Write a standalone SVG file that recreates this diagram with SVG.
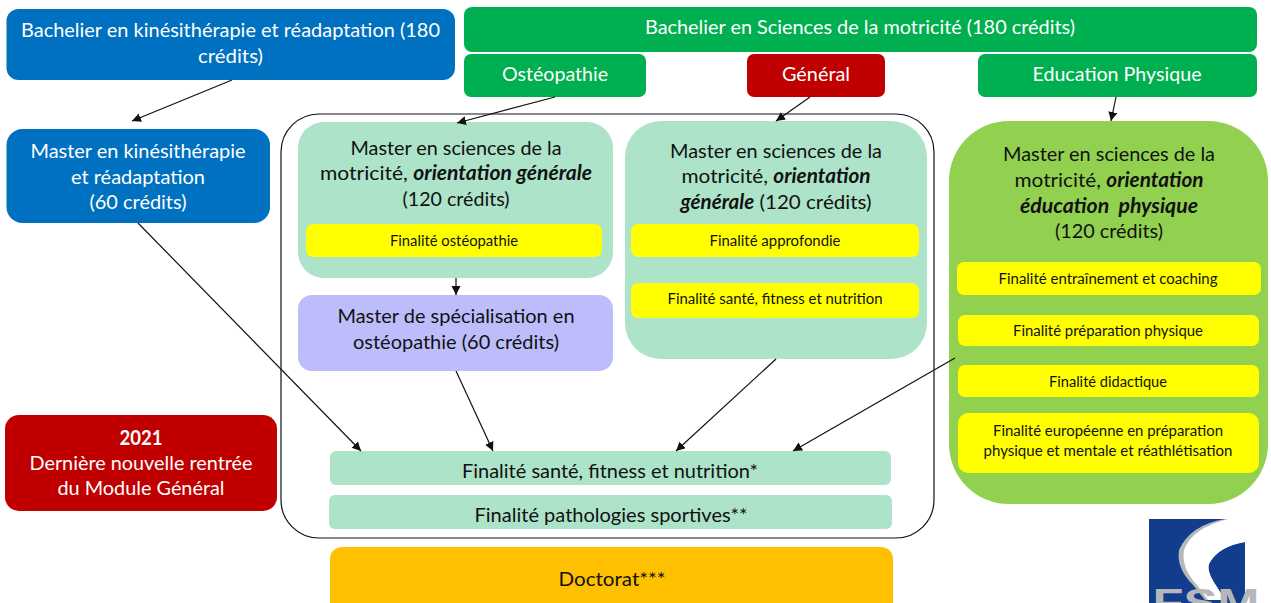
<svg xmlns="http://www.w3.org/2000/svg" width="1271" height="603" viewBox="0 0 1271 603">
<style>
text{font-family:"Lato","Open Sans","Liberation Sans",sans-serif;text-anchor:middle}
.l{font-size:20px;fill:#111}
.w{font-size:20px;fill:#fff}
.s{font-size:14.5px;fill:#111}
.b{font-weight:700;font-style:italic}
.c{stroke:#111;stroke-width:1.2;fill:none;marker-end:url(#a)}
</style>
<defs><marker id="a" markerUnits="userSpaceOnUse" markerWidth="10" markerHeight="10" refX="9" refY="4.5" orient="auto"><path d="M0 0L9 4.500L0 9z" fill="#111"/></marker></defs>
<rect width="1271" height="603" fill="#fff"/>
<g id="frame"><rect x="281" y="114" width="653" height="424" rx="38" fill="none" stroke="#111" stroke-width="1.2"/></g>
<g id="bach-kine"><rect x="6.5" y="9" width="448.500" height="71" rx="12" fill="#0070C0"/>
<text class="w" x="230.500" y="37" textLength="419" lengthAdjust="spacingAndGlyphs">Bachelier en kinésithérapie et réadaptation (180</text>
<text class="w" x="230.500" y="63" textLength="65" lengthAdjust="spacingAndGlyphs">crédits)</text></g>
<g id="bach-motricite"><rect x="464" y="7" width="793" height="45" rx="8" fill="#00B050"/>
<text class="w" x="860" y="34" textLength="430" lengthAdjust="spacingAndGlyphs">Bachelier en Sciences de la motricité (180 crédits)</text></g>
<g id="osteo"><rect x="464" y="54" width="182" height="43" rx="7" fill="#00B050"/>
<text class="w" x="555" y="81" textLength="106" lengthAdjust="spacingAndGlyphs">Ostéopathie</text></g>
<g id="general"><rect x="747" y="54" width="138" height="43" rx="7" fill="#C00000"/>
<text class="w" x="816" y="81" textLength="68" lengthAdjust="spacingAndGlyphs">Général</text></g>
<g id="edu"><rect x="978" y="54" width="279" height="43" rx="7" fill="#00B050"/>
<text class="w" x="1117" y="81" textLength="169" lengthAdjust="spacingAndGlyphs">Education Physique</text></g>
<g id="master-kine"><rect x="6.5" y="129" width="263.500" height="94" rx="16" fill="#0070C0"/>
<text class="w" x="138" y="158" textLength="215" lengthAdjust="spacingAndGlyphs">Master en kinésithérapie</text>
<text class="w" x="138" y="184" textLength="134" lengthAdjust="spacingAndGlyphs">et réadaptation</text>
<text class="w" x="138" y="209" textLength="97" lengthAdjust="spacingAndGlyphs">(60 crédits)</text></g>
<g id="master-a"><rect x="298" y="122" width="315" height="156" rx="26" fill="#ACE3C9"/>
<text class="l" x="456" y="155" textLength="211" lengthAdjust="spacingAndGlyphs">Master en sciences de la</text>
<text class="l" x="456" y="180" textLength="272" lengthAdjust="spacingAndGlyphs">motricité, <tspan class="b">orientation générale</tspan></text>
<text class="l" x="456" y="206" textLength="107" lengthAdjust="spacingAndGlyphs">(120 crédits)</text>
<rect x="306" y="224" width="296" height="33" rx="7" fill="#FFFF00"/>
<text class="s" x="454" y="246" textLength="128" lengthAdjust="spacingAndGlyphs">Finalité ostéopathie</text></g>
<g id="master-spec"><rect x="298" y="295" width="315" height="76" rx="14" fill="#BDBDFB"/>
<text class="l" x="456" y="323" textLength="237" lengthAdjust="spacingAndGlyphs">Master de spécialisation en</text>
<text class="l" x="456" y="349" textLength="206" lengthAdjust="spacingAndGlyphs">ostéopathie (60 crédits)</text></g>
<g id="master-b"><rect x="625" y="121" width="302" height="238" rx="36" fill="#ACE3C9"/>
<text class="l" x="776" y="158" textLength="212" lengthAdjust="spacingAndGlyphs">Master en sciences de la</text>
<text class="l" x="776" y="183" textLength="189" lengthAdjust="spacingAndGlyphs">motricité, <tspan class="b">orientation</tspan></text>
<text class="l" x="776" y="209" textLength="191" lengthAdjust="spacingAndGlyphs"><tspan class="b">générale</tspan> (120 crédits)</text>
<rect x="631" y="224" width="288" height="33" rx="7" fill="#FFFF00"/>
<text class="s" x="775" y="246" textLength="131" lengthAdjust="spacingAndGlyphs">Finalité approfondie</text>
<rect x="631" y="283" width="288" height="35" rx="7" fill="#FFFF00"/>
<text class="s" x="775" y="304" textLength="215" lengthAdjust="spacingAndGlyphs">Finalité santé, fitness et nutrition</text></g>
<g id="master-c"><rect x="949" y="121" width="319" height="383" rx="60" fill="#92D050"/>
<text class="l" x="1109" y="161" textLength="212" lengthAdjust="spacingAndGlyphs">Master en sciences de la</text>
<text class="l" x="1109" y="187" textLength="189" lengthAdjust="spacingAndGlyphs">motricité, <tspan class="b">orientation</tspan></text>
<text class="l b" x="1109" y="213" textLength="178" lengthAdjust="spacingAndGlyphs" xml:space="preserve">éducation  physique</text>
<text class="l" x="1109" y="238" textLength="108" lengthAdjust="spacingAndGlyphs">(120 crédits)</text>
<rect x="957" y="262" width="304" height="33" rx="7" fill="#FFFF00"/>
<text class="s" x="1108" y="284" textLength="219" lengthAdjust="spacingAndGlyphs">Finalité entraînement et coaching</text>
<rect x="958" y="315" width="301" height="31" rx="7" fill="#FFFF00"/>
<text class="s" x="1108" y="336" textLength="190" lengthAdjust="spacingAndGlyphs">Finalité préparation physique</text>
<rect x="958" y="365" width="301" height="32" rx="7" fill="#FFFF00"/>
<text class="s" x="1108" y="387" textLength="118" lengthAdjust="spacingAndGlyphs">Finalité didactique</text>
<rect x="958" y="413" width="301" height="60" rx="10" fill="#FFFF00"/>
<text class="s" x="1108" y="436" textLength="230" lengthAdjust="spacingAndGlyphs">Finalité européenne en préparation</text>
<text class="s" x="1108" y="456" textLength="249" lengthAdjust="spacingAndGlyphs">physique et mentale et réathlétisation</text></g>
<g id="note-2021"><rect x="5" y="415" width="272" height="96" rx="14" fill="#C00000"/>
<text class="w" x="141" y="445" font-weight="700" textLength="43" lengthAdjust="spacingAndGlyphs">2021</text>
<text class="w" x="141" y="470" textLength="223" lengthAdjust="spacingAndGlyphs">Dernière nouvelle rentrée</text>
<text class="w" x="141" y="495" textLength="167" lengthAdjust="spacingAndGlyphs">du Module Général</text></g>
<g id="fin-sante"><rect x="330" y="451" width="561" height="34" rx="6" fill="#ACE3C9"/>
<text class="l" x="610" y="478" textLength="296" lengthAdjust="spacingAndGlyphs">Finalité santé, fitness et nutrition*</text></g>
<g id="fin-patho"><rect x="329" y="495" width="563" height="34" rx="6" fill="#ACE3C9"/>
<text class="l" x="611" y="522" textLength="273" lengthAdjust="spacingAndGlyphs">Finalité pathologies sportives**</text></g>
<g id="doctorat"><rect x="330" y="547" width="563" height="70" rx="12" fill="#FFC000"/>
<text class="l" x="612" y="586" textLength="107" lengthAdjust="spacingAndGlyphs">Doctorat***</text></g>
<g id="logo"><rect x="1149" y="519" width="96" height="84" fill="#123C8C"/>
<path d="M1244 519H1225Q1190 525 1179 550Q1176 568 1193 585L1205 600L1225 600L1217 587Q1205 570 1210 562Q1220 546 1245 542Z" fill="#B5B7BA"/>
<path d="M1245 519H1228Q1192 528 1184 550Q1181 568 1197 585L1208 600H1225L1217 587Q1205 570 1210 562Q1220 546 1245 542Z" fill="#fff"/>
<text x="1206" y="616" font-size="38" font-weight="700" fill="#B5B7BA" style="font-family:'Liberation Sans',sans-serif" textLength="107" lengthAdjust="spacingAndGlyphs">FSM</text></g>
<g id="connectors">
<path class="c" d="M232 80L132 121"/>
<path class="c" d="M555 97L457 123"/>
<path class="c" d="M456 278L456 295"/>
<path class="c" d="M810 97L776 121"/>
<path class="c" d="M1116 97L1111 121"/>
<path class="c" d="M138 223L361 451"/>
<path class="c" d="M456 371L493 451"/>
<path class="c" d="M776 359L676 451"/>
<path class="c" d="M955 358L793 451"/>
</g>
</svg>
